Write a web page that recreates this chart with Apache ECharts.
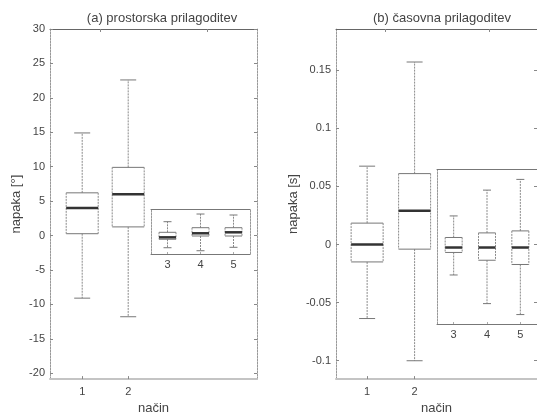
<!DOCTYPE html>
<html>
<head>
<meta charset="utf-8">
<script src="https://cdn.jsdelivr.net/npm/echarts@6/dist/echarts.min.js"></script>
<style>html,body{margin:0;padding:0;background:#fff}#c{width:537px;height:420px}</style>
</head>
<body>
<div id="c"></div>
<script>
// ---------- data ----------
const titleA = '(a) prostorska prilagoditev';
const titleB = '(b) časovna prilagoditev';
const yNameA = 'napaka [°]';
const yNameB = 'napaka [s]';
const xName = 'način';

const mainPositions = [1, 2];
const mainCategoryLabels = [1, 2];
const insetCategories = ['3', '4', '5'];

// stats: [min, q1, median, q3, max]
const angleMainStats = [
  [-9.1, 0.26, 4.0, 6.2, 14.9],
  [-11.8, 1.25, 6.0, 9.9, 22.6]
];
const angleInsetStats = [
  [-1.32, -0.11, 0.17, 0.89, 2.41],
  [-1.75, 0.36, 0.75, 1.55, 3.51],
  [-1.26, 0.36, 0.89, 1.55, 3.37]
];
const timeMainStats = [
  [-0.0637, -0.015, 0, 0.0184, 0.0674],
  [-0.100, -0.004, 0.029, 0.061, 0.157]
];
const timeInsetStats = [
  [-0.0233, -0.0042, 0, 0.0085, 0.0268],
  [-0.0476, -0.0108, 0, 0.0124, 0.0487],
  [-0.0569, -0.0144, 0, 0.0141, 0.0578]
];

const angleTicks = [-20, -15, -10, -5, 0, 5, 10, 15, 20, 25, 30];
const timeTicks = [-0.1, -0.05, 0, 0.05, 0.1, 0.15];
const angleTopTicks = [1.387, 3.713];
const timeTopTicks = [1.378, 3.579];

// ---------- styles ----------
const FONT = 'Liberation Sans, Arial, sans-serif';
const TXT = '#444';
const VDASH = { color: '#999', width: 1, type: [2, 1] };

function boxRenderer(boxW, capW) {
  return function (params, api) {
    const x = api.value(0);
    const p = i => api.coord([x, api.value(i)]);
    const pMin = p(1), pQ1 = p(2), pMed = p(3), pQ3 = p(4), pMax = p(5);
    const cx = pMed[0];
    const hw = boxW / 2, hc = capW / 2;
    const line = (x1, y1, x2, y2, style) => ({
      type: 'line', shape: { x1, y1, x2, y2 }, style: Object.assign({ fill: null }, style)
    });
    const dash = { stroke: '#8a8a8a', lineWidth: 1, lineDash: [2, 1] };
    const solid = { stroke: '#777', lineWidth: 1 };
    return {
      type: 'group',
      children: [
        line(cx, pQ3[1], cx, pMax[1], dash),
        line(cx, pQ1[1], cx, pMin[1], dash),
        line(cx - hc, pMax[1], cx + hc, pMax[1], solid),
        line(cx - hc, pMin[1], cx + hc, pMin[1], solid),
        line(cx - hw, pQ3[1], cx + hw, pQ3[1], solid),
        line(cx - hw, pQ1[1], cx + hw, pQ1[1], solid),
        line(cx - hw, pQ3[1], cx - hw, pQ1[1], dash),
        line(cx + hw, pQ3[1], cx + hw, pQ1[1], dash),
        line(cx - hw, pMed[1], cx + hw, pMed[1], { stroke: '#333', lineWidth: 2.5 })
      ]
    };
  };
}

function mainData(stats) { return stats.map((s, i) => [mainPositions[i]].concat(s)); }
function insetData(stats) { return stats.map((s, i) => [i].concat(s)); }

function bottomValueX(grid, min, max) {
  return {
    type: 'value', gridIndex: grid, position: 'bottom', min, max,
    splitLine: { show: false },
    axisLine: { show: true, onZero: false, lineStyle: { color: '#c4c4c4', width: 2 } },
    axisTick: { show: true, inside: true, length: 3, customValues: mainCategoryLabels, lineStyle: { color: '#888' } },
    axisLabel: { show: true, customValues: mainCategoryLabels, color: TXT, fontFamily: FONT, fontSize: 11, margin: 7 },
    name: xName, nameLocation: 'middle', nameGap: 22,
    nameTextStyle: { color: TXT, fontFamily: FONT, fontSize: 13 }
  };
}
function topValueX(grid, min, max, ticks) {
  return {
    type: 'value', gridIndex: grid, position: 'top', min, max,
    splitLine: { show: false },
    axisLine: { show: true, onZero: false, lineStyle: { color: '#666', width: 1 } },
    axisTick: { show: true, inside: true, length: 3, customValues: ticks, lineStyle: { color: '#888' } },
    axisLabel: { show: false }
  };
}
function insetX(grid, pos, labels) {
  return {
    type: 'category', gridIndex: grid, position: pos, data: insetCategories,
    axisLine: { show: true, onZero: false, lineStyle: { color: '#777', width: 1 } },
    axisTick: { show: labels, inside: true, length: 2, alignWithLabel: true, lineStyle: { color: '#aaa' } },
    axisLabel: { show: labels, color: TXT, fontFamily: FONT, fontSize: 11, margin: 5 },
    splitLine: { show: false }
  };
}
function mainY(grid, pos, min, max, ticks, labels, name, gap) {
  const o = {
    type: 'value', gridIndex: grid, position: pos, min, max,
    splitLine: { show: false },
    axisLine: { show: true, onZero: false, lineStyle: VDASH },
    axisTick: { show: true, inside: true, length: 3, customValues: ticks, lineStyle: { color: '#888' } },
    axisLabel: { show: labels, customValues: ticks, color: TXT, fontFamily: FONT, fontSize: 11, margin: 5 }
  };
  if (name) {
    o.name = name; o.nameLocation = 'middle'; o.nameGap = gap;
    o.nameTextStyle = { color: TXT, fontFamily: FONT, fontSize: 13 };
  }
  return o;
}
function insetY(grid, pos, min, max) {
  return {
    type: 'value', gridIndex: grid, position: pos, min, max,
    splitLine: { show: false },
    axisLine: { show: true, onZero: false, lineStyle: VDASH },
    axisTick: { show: false }, axisLabel: { show: false }
  };
}

const chart = echarts.init(document.getElementById('c'), null, { renderer: 'canvas' });
chart.setOption({
  animation: false,
  backgroundColor: '#fff',
  title: [
    { text: titleA, left: 157, top: 7, textAlign: 'center',
      textStyle: { color: TXT, fontFamily: FONT, fontSize: 13, fontWeight: 'normal' } },
    { text: titleB, left: 437, top: 7, textAlign: 'center',
      textStyle: { color: TXT, fontFamily: FONT, fontSize: 13, fontWeight: 'normal' } }
  ],
  grid: [
    { left: 50, top: 29, width: 207, height: 355 },
    { left: 151, top: 209, width: 99, height: 45 },
    { left: 336, top: 29, width: 202, height: 355 },
    { left: 437, top: 169.5, width: 101, height: 154.5 }
  ],
  xAxis: [
    bottomValueX(0, 0.3, 4.8),
    topValueX(0, 0.3, 4.8, angleTopTicks),
    insetX(1, 'bottom', true),
    insetX(1, 'top', false),
    bottomValueX(2, 0.344, 4.579),
    topValueX(2, 0.344, 4.579, timeTopTicks),
    insetX(3, 'bottom', true),
    insetX(3, 'top', false)
  ],
  yAxis: [
    mainY(0, 'left', -20.86, 30, angleTicks, true, yNameA, 27),
    mainY(0, 'right', -20.86, 30, angleTicks, false),
    insetY(1, 'left', -2.22, 4.23),
    insetY(1, 'right', -2.22, 4.23),
    mainY(2, 'left', -0.1158, 0.1854, timeTicks, true, yNameB, 36),
    mainY(2, 'right', -0.1158, 0.1854, timeTicks, false),
    insetY(3, 'left', -0.0649, 0.0662),
    insetY(3, 'right', -0.0649, 0.0662)
  ],
  series: [
    { type: 'custom', xAxisIndex: 0, yAxisIndex: 0, renderItem: boxRenderer(32, 16),
      encode: { x: 0, y: [1, 2, 3, 4, 5] }, data: mainData(angleMainStats) },
    { type: 'custom', xAxisIndex: 2, yAxisIndex: 2, renderItem: boxRenderer(17, 8),
      encode: { x: 0, y: [1, 2, 3, 4, 5] }, data: insetData(angleInsetStats) },
    { type: 'custom', xAxisIndex: 4, yAxisIndex: 4, renderItem: boxRenderer(32, 16),
      encode: { x: 0, y: [1, 2, 3, 4, 5] }, data: mainData(timeMainStats) },
    { type: 'custom', xAxisIndex: 6, yAxisIndex: 6, renderItem: boxRenderer(17, 8),
      encode: { x: 0, y: [1, 2, 3, 4, 5] }, data: insetData(timeInsetStats) }
  ]
});
</script>
</body>
</html>
